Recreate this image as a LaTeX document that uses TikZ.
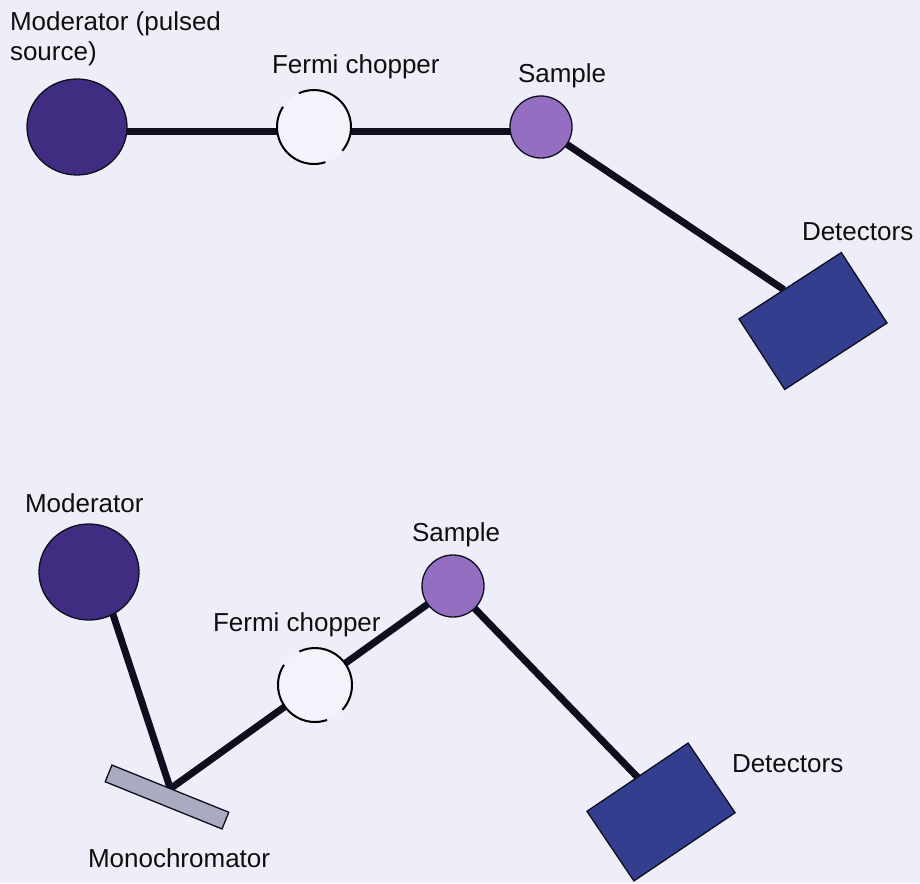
\documentclass[tikz,border=0pt]{standalone}
\usepackage{fontspec}
\setmainfont{Liberation Sans}
\usetikzlibrary{shapes.geometric,calc}
\definecolor{bgc}{RGB}{238,238,248}
\definecolor{modc}{RGB}{64,44,128}
\definecolor{sampc}{RGB}{148,110,192}
\definecolor{detc}{RGB}{52,62,142}
\definecolor{monoc}{RGB}{170,170,192}
\definecolor{linec}{RGB}{14,14,30}
\definecolor{chopc}{RGB}{243,243,251}
\definecolor{textc}{RGB}{15,15,15}
\pgfdeclarelayer{back}
\pgfdeclarelayer{beam}
\pgfsetlayers{back,beam,main}
\tikzset{
  lbl/.style={anchor=base west, inner sep=0pt, outer sep=0pt, font=\fontsize{26}{30}\selectfont, text=textc},
  modnode/.style={ellipse, fill=modc, draw=linec, line width=1.3pt, minimum width=100pt, minimum height=96pt, inner sep=0pt, outer sep=0pt},
  sampnode/.style={circle, fill=sampc, draw=linec, line width=1.3pt, minimum size=62pt, inner sep=0pt, outer sep=0pt},
  chopnode/.style={circle, fill=chopc, draw=none, minimum size=74pt, inner sep=0pt, outer sep=0pt},
  chopline/.style={draw=black, line width=2pt},
  detnode/.style={rectangle, fill=detc, draw=linec, line width=1.3pt, minimum width=122pt, minimum height=84pt, inner sep=0pt, outer sep=0pt},
  mononode/.style={rectangle, fill=monoc, draw=linec, line width=1.3pt, minimum width=126pt, minimum height=18pt, inner sep=0pt, outer sep=0pt},
  beamline/.style={draw=linec, line width=7pt}
}
\begin{document}
\begin{tikzpicture}[x=1pt, y=-1pt]
\begin{pgfonlayer}{back}
  \fill[bgc] (0,0) rectangle (920,883);
\end{pgfonlayer}
\useasboundingbox (0,0) rectangle (920,883);

% ---------- top panel ----------
\node[modnode] (mod1) at (77,127) {};
\node[chopnode] (chop1) at (314,127) {};
\node[sampnode] (samp1) at (541,127) {};
\node[detnode, rotate=33] (det1) at (813,321) {};
\draw[chopline] (chop1.-40) arc[start angle=-40, end angle=114, radius=37pt];
\draw[chopline] (chop1.147) arc[start angle=147, end angle=288, radius=37pt];

\begin{pgfonlayer}{beam}
  \draw[beamline] ([yshift=-4pt]mod1.center) -- ([yshift=-4pt]chop1.center) -- ([yshift=-4pt]samp1.center);
  \draw[beamline] (samp1.center) -- ($(det1.north)!0.12!(det1.north west)$);
\end{pgfonlayer}

\node[lbl, anchor=north west, align=left] (lmod1) at (10,12) {Moderator (pulsed\\source)};
\node[lbl] (lfc1) at (272,74) {Fermi chopper};
\node[lbl] (ls1) at (518,82) {Sample};
\node[lbl] (ld1) at (802,240) {Detectors};

% ---------- bottom panel ----------
\node[modnode] (mod2) at (89,572) {};
\node[mononode, rotate=-22] (mono) at (167,797) {};
\node[chopnode] (chop2) at (315,685) {};
\node[sampnode] (samp2) at (453,586) {};
\node[detnode, rotate=34] (det2) at (661,812) {};
\draw[chopline] (chop2.-42) arc[start angle=-42, end angle=115, radius=37pt];
\draw[chopline] (chop2.147) arc[start angle=147, end angle=289, radius=37pt];

\begin{pgfonlayer}{beam}
  \draw[beamline] ([xshift=10pt]mod2.center) -- (mono.north);
  \draw[beamline] (mono.north) -- (chop2.center) -- (samp2.center);
  \draw[beamline] (samp2.center) -- (det2.north);
\end{pgfonlayer}

\node[lbl] (lmod2) at (25,512) {Moderator};
\node[lbl] (ls2) at (412,541) {Sample};
\node[lbl] (lfc2) at (213,631) {Fermi chopper};
\node[lbl] (ld2) at (732,772) {Detectors};
\node[lbl] (lmono) at (88,867) {Monochromator};
\end{tikzpicture}
\end{document}
